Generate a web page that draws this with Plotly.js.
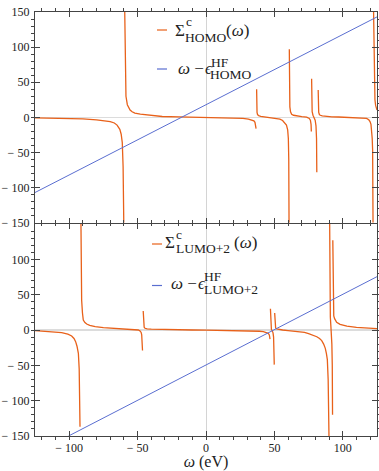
<!DOCTYPE html>
<html><head><meta charset="utf-8">
<script src="https://cdn.plot.ly/plotly-3.0.1.min.js"></script>
<style>html,body{margin:0;padding:0;background:#fff}#c{width:379px;height:471px}</style>
</head><body><div id="c"></div>
<script>
// ---------- data ----------
// Top panel: Sigma^c_HOMO(omega), branches separated by null
const homoOmega = [
  -125,-110,-100,-90,-80,-75,-70,-67,-65,-63,-62,-61.2,-60.6,-60.1, null,
  -59.4,-59.0,-58.5,-57.5,-56.5,-55.5,-54,-52,-48,-44,-38,-32,-20,-10,0,10,20,27,31,33.5,35,35.8,36.3,36.6, null,
  37.0,37.1,37.3,37.7,38.5,40,43,47,51,54,56,57.5,58.8,59.7,60.2,60.5,60.7, null,
  60.9,61.0,61.3,61.8,62.6,64,66.3,70,73.6,75.5,76.3,76.8,77.0, null,
  77.2,77.3,77.6,78.2,79,79.8,80.4,80.8,81.0, null,
  82.0,82.1,82.4,82.9,83.5,85,88,92,97,103,108,112,115,117.4,119,119.9,120.6,121.1,121.5,121.8,122.1, null,
  122.5,123.0,123.5,124.0,124.6,125
];
const homoSigma = [
  -0.8,-1.2,-1.6,-2.2,-3.5,-4.5,-6,-8,-11,-17,-24,-36,-70,-150, null,
  150,60,30,18,13,10.5,8,6,4.5,3.5,2,1.2,0.6,0.3,0,-0.3,-0.8,-1.5,-2.5,-3.5,-5,-7,-11,-16, null,
  40,15,7,4,2.5,1.5,0.8,0,-1,-2.6,-4.5,-7.3,-11,-17.8,-30,-60,-150, null,
  97,40,15,8,4.5,3,2,1,0.3,-1.5,-4,-10,-20, null,
  55,20,8,3,0,-4,-12,-30,-78, null,
  39,15,7,4,3,2,1.3,0.8,0.5,0,-0.3,-0.6,-1,-1.5,-3.5,-6,-10,-18,-30,-46,-150, null,
  150,50,25,17,13,10.5
];
// omega - eps^HF_HOMO
const homoLineOmega = [-125, 125];
const homoLineValue = [-107, 143];

// Bottom panel: Sigma^c_LUMO+2(omega)
const lumoOmega = [
  -125,-115,-105.5,-101,-98.2,-96.5,-95.3,-94.3,-93.3,-92.7,-92.3,-92.1, null,
  -91.4,-91.1,-90.9,-90.3,-89.7,-88.5,-87.2,-85,-81,-75,-64,-58,-52,-49.5,-48.2,-47.4,-47,-46.7,-46.4, null,
  -45.9,-45.8,-45.6,-45.2,-44.6,-43,-40,-37.3,-30,-20,-10,0,10,20,28,32,36,39,41.9,44,45.5,46.3,46.8, null,
  47.1,47.2,47.4,47.8,48.4,49.0,49.4,49.7,49.9, null,
  50.2,50.3,50.5,50.9,51.7,53,56,60,65,68.7,72,75,78.4,81,83,84.6,86,87.2,88,88.7,89.3,89.9, null,
  90.4,90.6,90.9,91.3,91.7,92.0,92.3,92.5, null,
  92.7,92.8,93.0,93.4,94,95.5,98,103,110,115,120,125
];
const lumoSigma = [
  -0.8,-2,-3.8,-6,-8.5,-12,-16.5,-23,-33,-55,-90,-137, null,
  150,80,42,24,14,10.5,8.5,6.5,4.7,3.5,2.4,1.6,1,0,-1.4,-3.5,-7,-15,-29, null,
  27,15,7,4,2.4,1.6,1.2,1,0.6,0.3,0,-0.2,-0.4,-0.6,-0.8,-1,-1.4,-1.8,-2.4,-3.3,-4.7,-7,-13, null,
  30,12,5,1,-1,-4,-10,-22,-49, null,
  24,12,6,3,1.5,0.8,0,-0.8,-1.6,-2.4,-3.5,-5,-7,-9.5,-12,-15,-20,-26,-33,-42,-70,-150, null,
  150,50,18,5,-5,-20,-50,-120, null,
  127,60,30,20,16,11,8,5.5,3.8,3,2.5,2
];
// omega - eps^HF_LUMO+2
const lumoLineOmega = [-100.5, 125];
const lumoLineValue = [-150, 75.5];

// tick labels
const xTickVals = [-100, -50, 0, 50, 100];
const xTickText = ["\u2212 100", "\u2212 50", "0", "50", "100"];
const yTopTickVals = [-150, -100, -50, 0, 50, 100, 150];
const yTopTickText = ["\u2212 150", "\u2212 100", "\u2212 50", "0", "50", "100", "150"];
const yBotTickVals = [-150, -100, -50, 0, 50, 100];
const yBotTickText = ["\u2212 150", "\u2212 100", "\u2212 50", "0", "50", "100"];

// ---------- styling ----------
const ORANGE = '#E8611A';
const BLUE = '#5A6ED0';
const FRAME = '#444';
const SERIF = 'Liberation Serif, DejaVu Serif, serif';

// pixel helpers for the legend (plot area: x 35..377, y 12..436)
const L = 35, R = 2, T = 12, B = 35, W = 379, H = 471;
const pw = W - L - R, ph = H - T - B;
const px = v => (v - L) / pw;
const py = v => (H - B - v) / ph;

const traces = [
  {x: homoOmega, y: homoSigma, xaxis: 'x', yaxis: 'y', mode: 'lines', connectgaps: false,
   line: {color: ORANGE, width: 1.3}, hoverinfo: 'skip'},
  {x: homoLineOmega, y: homoLineValue, xaxis: 'x', yaxis: 'y', mode: 'lines',
   line: {color: BLUE, width: 1}, hoverinfo: 'skip'},
  {x: lumoOmega, y: lumoSigma, xaxis: 'x2', yaxis: 'y2', mode: 'lines', connectgaps: false,
   line: {color: ORANGE, width: 1.3}, hoverinfo: 'skip'},
  {x: lumoLineOmega, y: lumoLineValue, xaxis: 'x2', yaxis: 'y2', mode: 'lines',
   line: {color: BLUE, width: 1}, hoverinfo: 'skip'}
];

const tickFont = {family: SERIF, size: 12, color: '#222'};
const minorX = {tickmode: 'linear', tick0: 0, dtick: 10, ticklen: 2.5, tickcolor: FRAME, tickwidth: 1, showgrid: false};
const minorY = {tickmode: 'linear', tick0: 0, dtick: 10, ticklen: 2.5, tickcolor: FRAME, tickwidth: 1, showgrid: false};

function xAxis(anchor, labels) {
  return {
    anchor: anchor, range: [-125, 125], showgrid: false,
    zeroline: true, zerolinecolor: '#d4d4d4', zerolinewidth: 1,
    showline: true, linecolor: FRAME, linewidth: 1.2, mirror: 'ticks',
    ticks: 'inside', ticklen: 5, tickwidth: 1, tickcolor: FRAME,
    tickmode: 'array', tickvals: xTickVals, ticktext: xTickText,
    showticklabels: labels, tickfont: tickFont, minor: minorX
  };
}
function yAxis(anchor, domain, vals, text) {
  return {
    anchor: anchor, domain: domain, range: [-150, 150], showgrid: false,
    zeroline: true, zerolinecolor: '#dcdcdc', zerolinewidth: 1.5,
    showline: true, linecolor: FRAME, linewidth: 1.2, mirror: 'ticks',
    ticks: 'inside', ticklen: 5, tickwidth: 1, tickcolor: FRAME,
    tickmode: 'array', tickvals: vals, ticktext: text,
    tickfont: tickFont, minor: minorY, ticklabelstandoff: 2
  };
}

const xa2 = xAxis('y2', true);
xa2.title = {text: '<i>ω</i> (eV)', font: {family: SERIF, size: 16, color: '#222'}, standoff: 10};

function ann(text, xpx, ypx, size, color) {
  return {text: text, xref: 'paper', yref: 'paper', x: px(xpx), y: py(ypx),
          xanchor: 'left', yanchor: 'middle', showarrow: false,
          font: {family: SERIF, size: size, color: color || '#222'}, borderpad: 0};
}
const BIG = 17, SMALL = 13.5;
const annotations = [
  // top legend row 1
  ann('Σ', 173.5, 30.5, BIG),
  ann('c', 184.5, 21, SMALL),
  ann('HOMO', 184, 37.5, SMALL),
  ann('(<i>ω</i>)', 225.5, 30.5, BIG),
  // top legend row 2
  ann('<i>ω</i> −', 177, 68.5, BIG),
  ann('<i>ϵ</i>', 203.5, 68.5, BIG),
  ann('HF', 210, 63, SMALL),
  ann('HOMO', 209.5, 74.5, SMALL),
  // bottom legend row 1
  ann('Σ', 164, 242, BIG),
  ann('c', 175, 234, SMALL),
  ann('LUMO+2', 174.5, 248.5, SMALL),
  ann('(<i>ω</i>)', 232.5, 243, BIG),
  // bottom legend row 2
  ann('<i>ω</i> −', 170, 283, BIG),
  ann('<i>ϵ</i>', 196.5, 283, BIG),
  ann('HF', 203, 276, SMALL),
  ann('LUMO+2', 202.5, 289, SMALL)
];
function legLine(x0, x1, y, color) {
  return {type: 'line', xref: 'paper', yref: 'paper', x0: px(x0), x1: px(x1), y0: py(y), y1: py(y),
          line: {color: color, width: 1.2}};
}
const shapes = [
  legLine(157, 167, 30, ORANGE),
  legLine(157, 167, 69, BLUE),
  legLine(152, 162, 244, ORANGE),
  legLine(152, 162, 285.5, BLUE)
];

const layout = {
  width: W, height: H,
  margin: {l: L, r: R, t: T, b: B, pad: 0},
  paper_bgcolor: '#fff', plot_bgcolor: '#fff',
  showlegend: false,
  xaxis: xAxis('y', false),
  yaxis: yAxis('x', [0.503, 1], yTopTickVals, yTopTickText),
  xaxis2: xa2,
  yaxis2: yAxis('x2', [0, 0.5], yBotTickVals, yBotTickText),
  annotations: annotations,
  shapes: shapes
};
Plotly.newPlot('c', traces, layout, {staticPlot: true, displayModeBar: false});
</script>
</body></html>
